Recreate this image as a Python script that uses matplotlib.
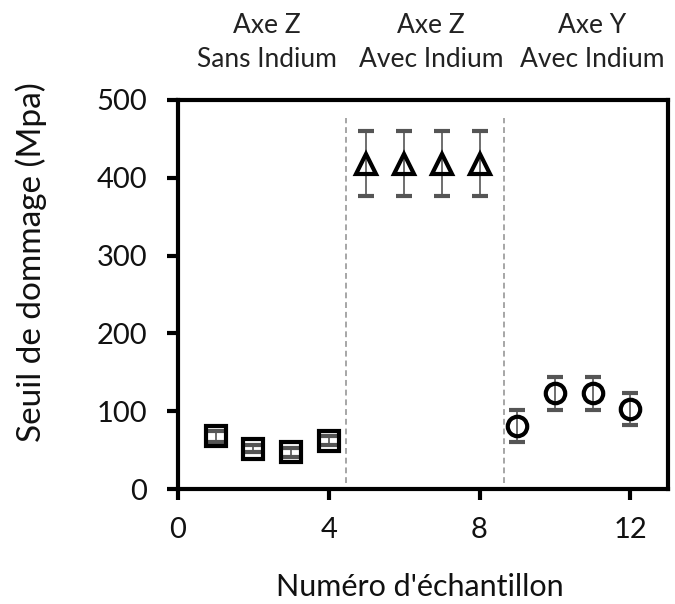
import numpy as np
import matplotlib
matplotlib.use('Agg')
import matplotlib.pyplot as plt

plt.rcParams['font.family'] = ['Lato', 'DejaVu Sans']

# Axe Z, sans indium
x_sq = [1, 2, 3, 4]
y_sq = [68, 52, 47, 62]
e_sq = [7, 5, 6, 6]

# Axe Z, avec indium
x_tri = [5, 6, 7, 8]
y_tri = [418, 418, 418, 418]
e_tri = [42, 42, 42, 42]

# Axe Y, avec indium
x_circ = [9, 10, 11, 12]
y_circ = [81, 123, 123, 103]
e_circ = [21, 21, 21, 21]

separators = [4.46, 8.66]
group_top = ['Axe Z', 'Axe Z', 'Axe Y']
group_bottom = ['Sans Indium', 'Avec Indium', 'Avec Indium']
group_centers = [2.36, 6.71, 10.98]

W, H = 675, 604
fig = plt.figure(figsize=(W / 100, H / 100), dpi=100)
ax = fig.add_axes([178 / W, 1 - 489 / H, 490 / W, 389 / H])

for xs in separators:
    ax.plot([xs, xs], [8, 477], color='#a6a6a6', ls=(0, (3, 2)), lw=1.4, zorder=1)

style = dict(ls='none', color='black', ecolor='#555555', elinewidth=1.2,
             capsize=6, capthick=1.2, mfc='none', mew=3)
ax.errorbar(x_sq, y_sq, yerr=e_sq, marker='s', ms=14, **style)
ax.errorbar(x_tri, y_tri, yerr=e_tri, marker='^', ms=14, **style)
ax.errorbar(x_circ, y_circ, yerr=e_circ, marker='o', ms=14, **style)

ax.set_xlim(0, 13)
ax.set_ylim(0, 500)
ax.set_xticks([0, 4, 8, 12])
ax.set_yticks(np.arange(0, 501, 100))
ax.tick_params(direction='out', length=8, width=3, labelsize=21,
               labelcolor='#111111')
ax.tick_params(axis='y', pad=14)
ax.tick_params(axis='x', pad=12)
for s in ax.spines.values():
    s.set_linewidth(3)

fig.text(420 / W, 1 - 587 / H, "Numéro d'échantillon", fontsize=22,
         ha='center', va='center', color='#111111')
fig.text(31 / W, 1 - 262 / H, 'Seuil de dommage (Mpa)', fontsize=24,
         rotation=90, ha='center', va='center', color='#111111')

for top, bot, xc in zip(group_top, group_bottom, group_centers):
    xf = (178 + xc * 490 / 13) / W
    fig.text(xf, 1 - 33 / H, top, ha='center', va='baseline', fontsize=19,
             color='#222222')
    fig.text(xf, 1 - 67 / H, bot, ha='center', va='baseline', fontsize=19,
             color='#222222')

fig.savefig('out.png', dpi=100)
